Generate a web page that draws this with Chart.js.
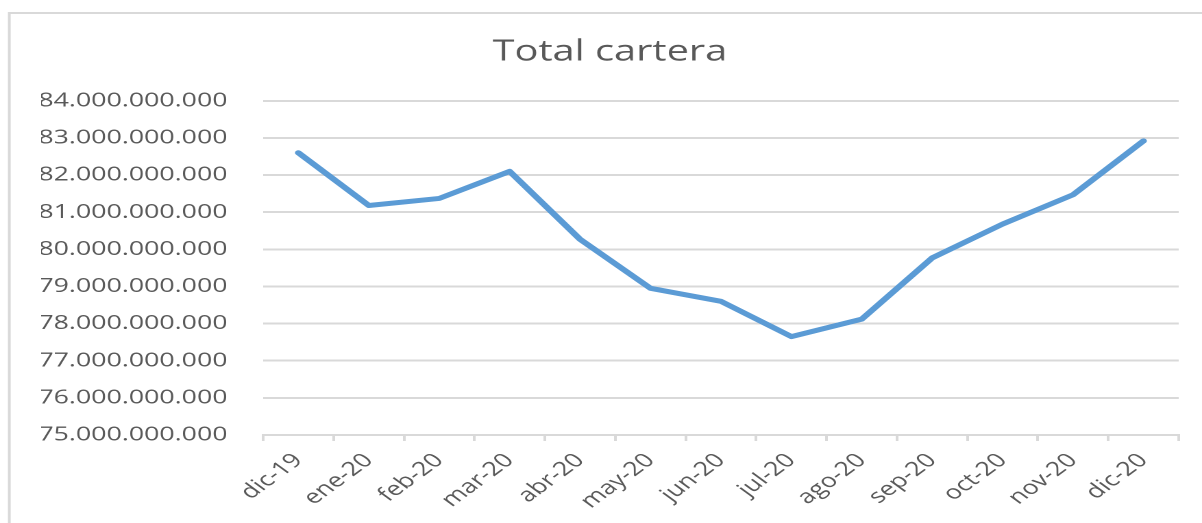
<!DOCTYPE html>
<html>
<head>
<meta charset="utf-8">
<script src="https://cdn.jsdelivr.net/npm/chart.js@4/dist/chart.umd.min.js"></script>
<style>
  html, body { margin: 0; padding: 0; background: #ffffff; overflow: hidden; }
</style>
</head>
<body>
<canvas id="c" width="877" height="523" style="display:block;width:1202px;height:523px;"></canvas>
<script>
const categories = ["dic-19","ene-20","feb-20","mar-20","abr-20","may-20","jun-20","jul-20","ago-20","sep-20","oct-20","nov-20","dic-20"];
const totalCartera = [82600000000, 81180000000, 81370000000, 82100000000, 80270000000, 78950000000, 78600000000, 77650000000, 78120000000, 79770000000, 80680000000, 81470000000, 82920000000];
const yMin = 75000000000;
const yMax = 84000000000;
const yStep = 1000000000;
const chartTitle = "Total cartera";

const FONT = "'Open Sans', 'Liberation Sans', sans-serif";
const TEXT = "#595959";
const GRID = "#d9d9d9";

const frame = {
  id: 'frame',
  beforeDraw(chart) {
    const ctx = chart.ctx;
    ctx.save();
    ctx.strokeStyle = GRID;
    ctx.lineWidth = 2;
    ctx.strokeRect(6.8, 13, 2000, 2000);
    ctx.restore();
  }
};

function fmt(v) {
  return String(Math.round(v)).replace(/\B(?=(\d{3})+(?!\d))/g, '.');
}

new Chart(document.getElementById('c'), {
  type: 'line',
  data: {
    labels: categories,
    datasets: [{
      label: chartTitle,
      data: totalCartera,
      borderColor: '#5B9BD5',
      backgroundColor: '#5B9BD5',
      borderWidth: 5,
      tension: 0,
      pointRadius: 0,
      borderCapStyle: 'round',
      borderJoinStyle: 'round',
      fill: false
    }]
  },
  options: {
    responsive: false,
    animation: false,
    devicePixelRatio: 2,
    layout: { padding: { left: 30, right: 17, top: 0, bottom: 0 } },
    plugins: {
      legend: { display: false },
      tooltip: { enabled: false },
      title: {
        display: true,
        text: chartTitle,
        color: TEXT,
        font: { family: FONT, size: 29, weight: 'normal' },
        padding: { top: 35, bottom: 31 }
      }
    },
    scales: {
      x: {
        offset: true,
        grid: {
          offset: true,
          drawOnChartArea: false,
          drawTicks: true,
          tickLength: 6,
          color: GRID,
          lineWidth: 2
        },
        border: { display: true, color: GRID, width: 2 },
        ticks: {
          color: TEXT,
          font: { family: FONT, size: 19.5 },
          minRotation: 45,
          maxRotation: 45,
          autoSkip: false,
          padding: 8
        },
        afterFit(scale) { scale.height = 88; }
      },
      y: {
        min: yMin,
        max: yMax,
        grid: { color: GRID, lineWidth: 2, drawTicks: false },
        border: { display: false },
        ticks: {
          stepSize: yStep,
          color: TEXT,
          font: { family: FONT, size: 19.5 },
          padding: 26,
          callback: (v) => fmt(v)
        },
        afterFit(scale) { scale.width = 162; }
      }
    }
  },
  plugins: [frame]
});
</script>
</body>
</html>
